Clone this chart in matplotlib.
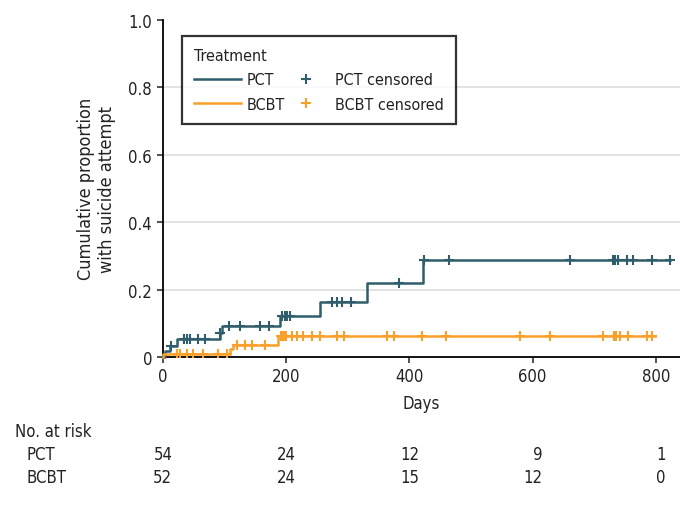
import numpy as np
import matplotlib
matplotlib.use("Agg")
import matplotlib.pyplot as plt
from matplotlib.legend_handler import HandlerLine2D

plt.rcParams['font.family'] = ['DejaVu Sans']
plt.rcParams['font.stretch'] = 'condensed'
plt.rcParams['font.size'] = 12
plt.rcParams['text.color'] = '#222222'
plt.rcParams['axes.labelcolor'] = '#222222'
plt.rcParams['xtick.color'] = '#222222'
plt.rcParams['ytick.color'] = '#222222'

# step curves (day of change, cumulative proportion after it)
pct_days = [0, 4, 12, 23, 93, 97, 191, 256, 331, 423, 822]
pct_cum = [0, 0.018, 0.034, 0.052, 0.072, 0.092, 0.122, 0.162, 0.219, 0.288, 0.288]
bcbt_days = [0, 1, 109, 114, 188, 799]
bcbt_cum = [0, 0.010, 0.024, 0.036, 0.062, 0.062]

# censoring times
pct_cens = [14, 35, 40, 45, 58, 69, 94, 107, 126, 158, 172, 194, 198, 202, 206,
            275, 283, 291, 305, 384, 424, 465, 661, 730, 734, 738, 753, 762, 794, 822]
bcbt_cens = [23, 28, 40, 50, 66, 90, 104, 120, 134, 145, 166, 192, 195, 198, 201,
             210, 218, 228, 242, 256, 283, 295, 364, 376, 420, 460, 580, 628, 714,
             732, 736, 741, 754, 785, 794]

# number at risk table
risk_days = [0, 200, 400, 600, 800]
pct_risk = [54, 24, 12, 9, 1]
bcbt_risk = [52, 24, 15, 12, 0]

pct_col = '#2f5d6b'
bcbt_col = '#f9a02b'


def level_at(days, cum, t):
    i = np.searchsorted(days, t, side='right') - 1
    return np.asarray(cum)[i]


class PlusHandler(HandlerLine2D):
    # put the '+' right of the handle centre, close to its label
    def get_xdata(self, legend, xdescent, ydescent, width, height, fontsize):
        xd, _ = super().get_xdata(legend, xdescent, ydescent, width, height, fontsize)
        return xd, [-xdescent + 0.8 * width]


fig = plt.figure(figsize=(6.8, 5.06), dpi=100)
ax = fig.add_axes([0.239, 0.2925, 0.761, 0.6666])

ax.step(pct_days, pct_cum, where='post', color=pct_col, lw=1.8, clip_on=False, label='PCT', zorder=3)
ax.step(bcbt_days, bcbt_cum, where='post', color=bcbt_col, lw=1.8, clip_on=False, label='BCBT', zorder=3)
pc, = ax.plot(pct_cens, level_at(pct_days, pct_cum, pct_cens), ls='none', marker='+',
              ms=7, mew=1.5, color=pct_col, label='PCT censored', zorder=4)
bc, = ax.plot(bcbt_cens, level_at(bcbt_days, bcbt_cum, bcbt_cens), ls='none', marker='+',
              ms=7, mew=1.5, color=bcbt_col, label='BCBT censored', zorder=4)

ax.set_xlim(0, 839)
ax.set_ylim(0, 1.0)
ax.set_xticks([0, 200, 400, 600, 800])
ax.set_yticks([0, 0.2, 0.4, 0.6, 0.8, 1.0])
ax.set_yticklabels(['0', '0.2', '0.4', '0.6', '0.8', '1.0'])
for y in [0.2, 0.4, 0.6, 0.8]:
    ax.axhline(y, color='#dedede', lw=1.2, zorder=0)
for s in ['top', 'right']:
    ax.spines[s].set_visible(False)
for s in ['left', 'bottom']:
    ax.spines[s].set_linewidth(1.3)
ax.tick_params(length=4, width=1.1, labelsize=12)
ax.set_xlabel('Days', labelpad=6)
ax.set_ylabel('Cumulative proportion\nwith suicide attempt', labelpad=9, fontsize=13)

leg = ax.legend(ncol=2, title='Treatment', alignment='left', loc='upper left',
                bbox_to_anchor=(0.0368, 0.952), borderaxespad=0, frameon=True,
                fancybox=False, fontsize=11.5, title_fontsize=11.5,
                handlelength=3.0, columnspacing=-0.15, handletextpad=0.3,
                borderpad=0.75, labelspacing=0.6,
                handler_map={pc: PlusHandler(), bc: PlusHandler()})
leg.get_frame().set_edgecolor('black')
leg.get_frame().set_linewidth(1.6)

fig.text(15 / 680, 1 - 432 / 506, 'No. at risk', va='center', ha='left')
fig.text(27 / 680, 1 - 455 / 506, 'PCT', va='center', ha='left')
fig.text(27 / 680, 1 - 478 / 506, 'BCBT', va='center', ha='left')
for d, a, b in zip(risk_days, pct_risk, bcbt_risk):
    ax.annotate(str(a), xy=(d, 1 - 455 / 506), xycoords=('data', 'figure fraction'),
                xytext=(7, 0), textcoords='offset points', ha='right', va='center',
                annotation_clip=False)
    ax.annotate(str(b), xy=(d, 1 - 478 / 506), xycoords=('data', 'figure fraction'),
                xytext=(7, 0), textcoords='offset points', ha='right', va='center',
                annotation_clip=False)

fig.savefig('out.png', dpi=100)
